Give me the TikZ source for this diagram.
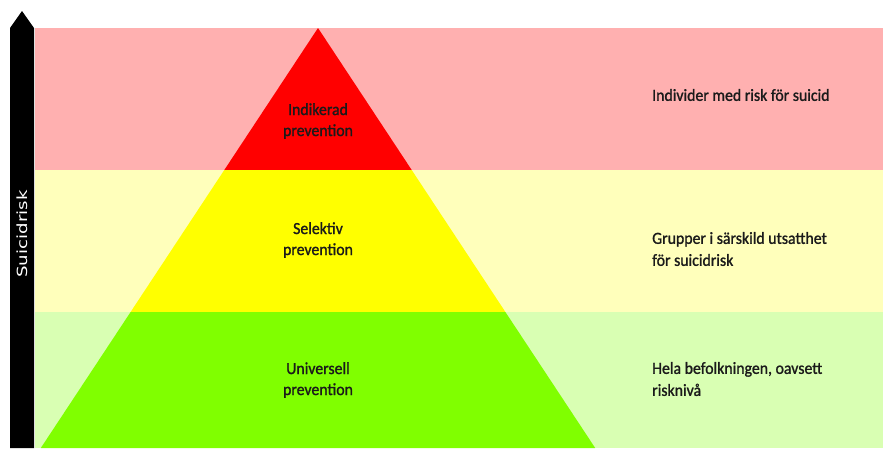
\documentclass[tikz,border=0pt]{standalone}
\usepackage{fontspec}
\setmainfont{Carlito}
\newfontfamily\heavyfont[FakeBold=1.2,FakeStretch=0.93]{Carlito}
\newfontfamily\axisfont[FakeStretch=1.3]{DejaVu Sans}
\definecolor{bandpink}{HTML}{FFB0B0}
\definecolor{bandyellow}{HTML}{FFFFBB}
\definecolor{bandgreen}{HTML}{D9FFB3}
\definecolor{pyrred}{HTML}{FF0000}
\definecolor{pyryellow}{HTML}{FFFF00}
\definecolor{pyrgreen}{HTML}{80FF00}
\definecolor{txt}{HTML}{1A1A1A}
\begin{document}
\begin{tikzpicture}[x=1pt,y=-1pt,
  pyrlabel/.style={align=center,font=\heavyfont\fontsize{17}{21}\selectfont,text=txt,inner sep=0pt},
  sidelabel/.style={align=left,anchor=west,font=\heavyfont\fontsize{17}{22}\selectfont,text=txt,inner sep=0pt}]
\useasboundingbox (0,0) rectangle (883,448);
\fill[white] (0,0) rectangle (883,448);
% bands
\fill[bandpink] (35,28) rectangle (883,170);
\fill[bandyellow] (35,170) rectangle (883,312);
\fill[bandgreen] (35,312) rectangle (883,448);
% pyramid
\fill[pyrred] (318,28) -- (411.7,170) -- (224.3,170) -- cycle;
\fill[pyryellow] (224.3,170) -- (411.7,170) -- (505.4,312) -- (130.6,312) -- cycle;
\fill[pyrgreen] (130.6,312) -- (505.4,312) -- (595.2,448) -- (40.8,448) -- cycle;
% arrow
\fill[black] (10,448) -- (10,28) -- (22,11) -- (34,28) -- (34,448) -- cycle;
\node[rotate=90,text=white,font=\axisfont\fontsize{14}{18}\selectfont,inner sep=0pt] (axis) at (22,234) {Suicidrisk};
% pyramid labels
\node[pyrlabel] (ind) at (318,121) {Indikerad\\prevention};
\node[pyrlabel] (sel) at (318,240) {Selektiv\\prevention};
\node[pyrlabel] (uni) at (318,380) {Universell\\prevention};
% side labels
\node[sidelabel] (r1) at (652,95) {Individer med risk för suicid};
\node[sidelabel] (r2) at (652,249) {Grupper i särskild utsatthet\\för suicidrisk};
\node[sidelabel] (r3) at (652,379) {Hela befolkningen, oavsett\\risknivå};
\end{tikzpicture}
\end{document}
